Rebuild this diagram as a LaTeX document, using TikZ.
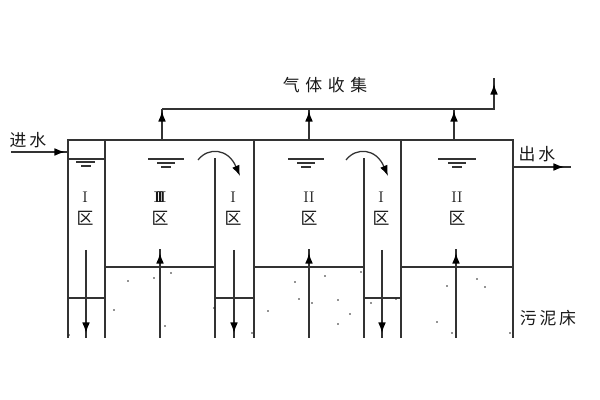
\documentclass[tikz,border=0pt]{standalone}
\usepackage{fontspec}
\newfontfamily\cjk{Noto Sans CJK SC}
\usetikzlibrary{arrows.meta}
\definecolor{wallgray}{HTML}{333333}
\tikzset{
  wall/.style={draw=wallgray, line width=1.05pt},
  pipe/.style={draw=wallgray, line width=.9pt},
  flow/.style={pipe, -{Latex[length=7.5pt,width=5.5pt,black]}},
  label/.style={font=\cjk\fontsize{12}{13}\selectfont, text=black!90, inner sep=0pt},
  zone/.style={font=\fontsize{11}{12}\selectfont, text=black!90, inner sep=0pt},
}
% one water level mark: surface line with two short strokes under it
\newcommand{\levelmark}[2]{
  \draw[pipe] (#1-#2,159)--(#1+#2,159);
  \draw[pipe] (#1-9,163)--(#1+9,163);
  \draw[pipe] (#1-5,167)--(#1+5,167);
}
\begin{document}
\begin{tikzpicture}[x=.025cm, y=-.025cm]
\useasboundingbox (0,0) rectangle (600,400);

% tank walls
\draw[wall] (68,338)--(68,140)--(513,140)--(513,338);
\draw[wall] (105,140)--(105,338);
\draw[wall] (254,140)--(254,338);
\draw[wall] (401,140)--(401,338);
\draw[wall] (215,338)--(215,158);
\draw[wall] (364,338)--(364,158);

% sludge bed
\draw[wall] (105,267)--(215,267);
\draw[wall] (254,267)--(364,267);
\draw[wall] (401,267)--(513,267);
\draw[pipe] (68,298)--(105,298);
\draw[pipe] (216,298)--(254,298);
\draw[pipe] (364,298)--(401,298);

% water levels
\draw[wall] (68,159)--(105,159);
\draw[pipe] (76,162)--(95,162);
\draw[pipe] (81,166)--(91,166);
\levelmark{166}{18}
\levelmark{306}{18}
\levelmark{457}{19}

% gas pipes
\coordinate (gas1) at (162,109);
\coordinate (gasend) at (494,109);
\coordinate (gastop) at (494,78);
\draw[pipe] (gas1)--(gasend)--(gastop);
\foreach \px in {162,309,454}{
  \draw[pipe] (\px,140)--(\px,109);
  \draw[flow] (\px,125)--(\px,111);
}
\draw[flow] (494,100)--(494,84);

% inlet, outlet
\draw[pipe] (11,152)--(68,152);
\draw[flow] (50,152)--(65,152);
\draw[pipe] (513,167)--(571,167);
\draw[flow] (548,167)--(564,167);

% flow over the baffles
\draw[flow] (198,160) .. controls (208,147) and (228,148) .. (240,176);
\draw[flow] (346,160) .. controls (356,147) and (376,148) .. (388,176);

% flow in the zones
\foreach \px in {86,234,382}{
  \draw[pipe] (\px,250)--(\px,338);
  \draw[flow] (\px,318)--(\px,333);
}
\foreach \px in {160,309,456}{
  \draw[pipe] (\px,338)--(\px,249);
  \draw[flow] (\px,268)--(\px,253);
}

% sludge dots
\foreach \px/\py in {128/281,154/278,171/273,114/310,165/326,214/308,69/335,252/333,295/282,268/311,299/299,
  325/276,361/272,312/303,338/300,350/314,338/324,371/303,396/299,447/286,477/279,485/287,437/322,452/333,510/333}
  \fill[black!85] (\px,\py) circle (.8);

% labels
\node[label] (gaslabel) at (325,85) {气\,\,体\,\,收\,\,集};
\node[label] (inlabel) at (28,140) {进\,水};
\node[label] (outlabel) at (537,154) {出\,水};
\node[label] (bedlabel) at (548,318) {污\,泥\,床};
\foreach \px/\num/\nm in {85/I/a,160/\textbf{I\kern-2.6pt I\kern-2.6pt I}/b,233/I/c,309/II/d,381/I/e,457/II/f}{
  \node[zone] (zone\nm) at (\px,197) {\num};
  \node[label] (area\nm) at (\px,218) {区};
}
\end{tikzpicture}
\end{document}
